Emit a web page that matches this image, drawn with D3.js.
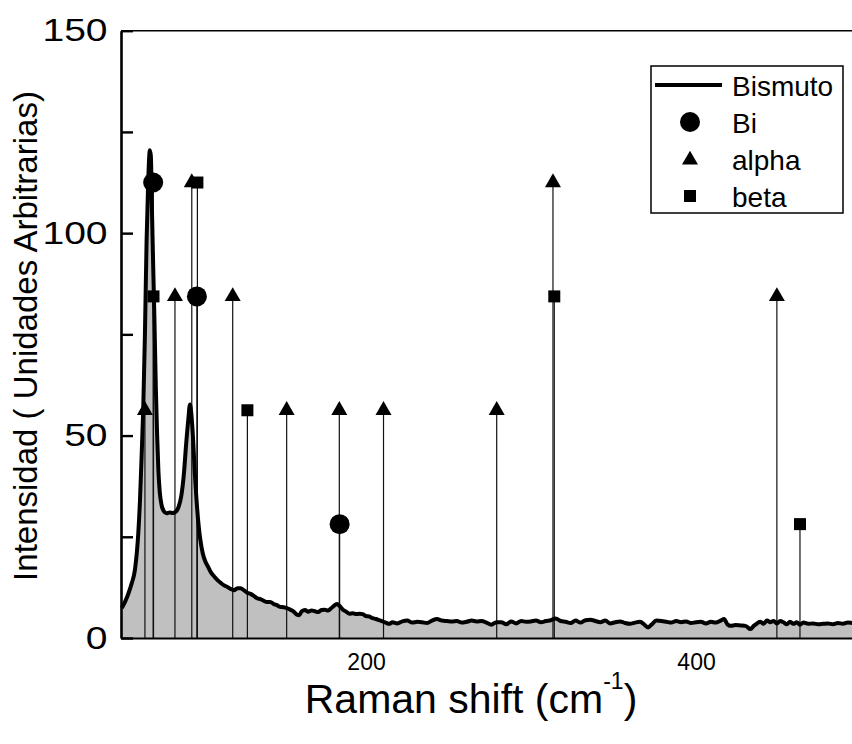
<!DOCTYPE html>
<html>
<head>
<meta charset="utf-8">
<script src="https://cdn.jsdelivr.net/npm/d3@7"></script>
<style>
  html, body { margin: 0; padding: 0; background: #fff; }
  svg { display: block; font-family: "Liberation Sans", Arial, sans-serif; }
</style>
</head>
<body>
<svg id="chart" width="852" height="744"></svg>
<script>
// ---- Data ----
const ramanShift = [52,54,56,58,60,62,63,64,65,66,67,68,69,69.6,70.3,71,71.8,72.6,73.4,74.2,75,76,77.5,79,81,83,85,86.5,88,89.5,91,92.3,93.3,94.2,95.2,96.2,97.2,98.5,99.5,101,102.5,104,106,108,110,112,114,116,118,120,122,124,126,128,130,132,134,136,138,140,142,144,146,148,150,152,154,156,158,159.5,161,163,165,167,169,171,173,175,177,179,181,182.5,184,186,188,190,192,194,196,198,200,202,204,206,208,210,212,214,216,219,222,225,228,231,234,237,240,243,246,249,252,255,258,261,264,267,270,273,276,279,282,285,288,291,294,297,300,303,306,309,312,315,318,321,324,327,330,333,336,339,342,345,348,351,354,357,360,363,366,369,371,373,376,379,382,385,388,391,394,397,400,403,406,409,412,415,417,419,421,424,427,430,433,435,437,439,441,443,445,447,449,451,453,455,457,459,461,463,465,468,471,474,477,480,483,486,489,492,495,500];
const bismutoIntensity = [7.4,9,11,13.5,17,26,34,45,57,75,98,113,120.5,119,105,92,78,62,50,41,36,33,31.3,30.8,31,30.9,31.3,32.5,35,40,48,54,57.7,55,49,41,34.5,28,24.5,21,19,17.8,16.2,15.2,14.3,13.6,13,12.6,12.1,11.8,12.3,12.3,11.8,11.2,10.9,10.4,9.8,9.6,9.2,8.9,8.9,8.4,8.1,7.7,7.6,7.4,7.0,6.6,5.8,5.6,6.6,6.9,6.5,6.8,6.6,6.4,6.9,7.0,6.8,7.4,8.1,8.4,7.9,7.0,6.5,6.0,6.1,5.9,6.0,5.9,5.4,5.3,4.9,4.7,4.4,4.1,3.8,3.5,3.9,3.6,4.1,4.3,3.8,4.0,3.9,3.7,4.3,4.7,4.3,4.2,4.1,4.2,3.8,4.0,4.3,4.1,4.2,3.8,3.3,3.9,3.9,3.4,4.1,3.6,4.2,4.0,4.1,4.3,3.9,4.2,4.4,4.8,4.2,4.0,3.7,4.3,3.8,4.4,4.5,4.2,3.9,4.3,3.6,3.9,4.1,3.7,3.5,3.8,4.0,3.2,2.6,3.3,4.3,4.2,4.0,3.8,4.2,3.9,4.1,3.7,3.9,4.0,3.6,4.0,3.8,4.3,4.7,3.4,3.0,3.2,3.1,3.0,2.2,3.0,3.6,4.0,3.5,4.3,3.9,4.2,3.6,4.2,3.9,3.4,4.0,3.5,3.9,3.3,3.8,3.5,3.6,3.4,3.5,3.6,3.4,3.7,3.5,3.8,3.7,3.6];

const biShift = [71, 97.5, 184];
const biLevel = [112.5, 84.375, 28.125];

const alphaShift = [66, 84.2, 94.4, 119.2, 151.9, 183.8, 210.6, 279.2, 313.3, 449];
const alphaLevel = [56.25, 84.375, 112.5, 84.375, 56.25, 56.25, 56.25, 56.25, 112.5, 84.375];

const betaShift = [71.2, 97.8, 128.1, 314.1, 463];
const betaLevel = [84.375, 112.5, 56.25, 84.375, 28.125];

const yTicks = [0, 25, 50, 75, 100, 125, 150];
const yTickLabels = [0, 50, 100, 150];
const xTickLabels = [200, 400];

const legendNames = ["Bismuto", "Bi", "alpha", "beta"];

// ---- Layout ----
const svg = d3.select("#chart");
const plotLeft = 121, plotBottom = 638, plotTop = 30.7;
const x = d3.scaleLinear().domain([51.5, 500]).range([plotLeft, plotLeft + 448.5 * 1.65]);
const y = d3.scaleLinear().domain([0, 150]).range([plotBottom, plotTop]);

const spectrum = ramanShift.map((v, i) => ({ x: v, y: bismutoIntensity[i] }));

// fill
svg.append("path")
  .datum(spectrum)
  .attr("fill", "#c0c0c0")
  .attr("d", d3.area().x(d => x(d.x)).y0(y(0)).y1(d => y(d.y)).curve(d3.curveMonotoneX));

// sticks
function sticks(xs, ys) {
  svg.append("g").selectAll("line").data(xs).join("line")
    .attr("x1", d => x(d)).attr("x2", d => x(d))
    .attr("y1", (d, i) => y(ys[i])).attr("y2", y(0))
    .attr("stroke", "#111").attr("stroke-width", 1.2);
}
sticks(biShift, biLevel);
sticks(alphaShift, alphaLevel);
sticks(betaShift, betaLevel);

// spectrum line
svg.append("path")
  .datum(spectrum)
  .attr("fill", "none")
  .attr("stroke", "#000")
  .attr("stroke-width", 4)
  .attr("stroke-linejoin", "round")
  .attr("d", d3.line().x(d => x(d.x)).y(d => y(d.y)).curve(d3.curveMonotoneX));

// markers
const circleSym = d3.symbol().type(d3.symbolCircle).size(Math.PI * 100);
const triSym = d3.symbol().type(d3.symbolTriangle).size(111);
const sqSym = d3.symbol().type(d3.symbolSquare).size(144);
function markers(xs, ys, sym) {
  svg.append("g").selectAll("path").data(xs).join("path")
    .attr("transform", (d, i) => `translate(${x(d)},${y(ys[i])})`)
    .attr("d", sym()).attr("fill", "#000");
}
markers(alphaShift, alphaLevel, triSym);
markers(betaShift, betaLevel, sqSym);
markers(biShift, biLevel, circleSym);

// top border
svg.append("line").attr("x1", plotLeft).attr("x2", 852).attr("y1", plotTop).attr("y2", plotTop)
  .attr("stroke", "#000").attr("stroke-width", 1.6);

// y axis
const yAxis = svg.append("g").attr("transform", `translate(${plotLeft},0)`)
  .call(d3.axisLeft(y).tickValues(yTicks).tickSizeInner(-12).tickSizeOuter(0).tickPadding(11)
    .tickFormat(d => yTickLabels.includes(d) ? d : ""));
yAxis.select(".domain").attr("stroke-width", 2.6);
yAxis.selectAll(".tick line").attr("stroke-width", 2.4);
yAxis.selectAll("text").attr("font-size", 32).attr("font-family", "Liberation Sans, Arial, sans-serif")
  .attr("fill", "#000").attr("transform", "scale(1.22,1)");

// x axis
const xAxis = svg.append("g").attr("transform", `translate(0,${plotBottom})`)
  .call(d3.axisBottom(x).tickValues(xTickLabels).tickSize(0).tickPadding(16));
xAxis.select(".domain").attr("stroke-width", 2);
xAxis.selectAll("text").attr("font-size", 23).attr("font-family", "Liberation Sans, Arial, sans-serif").attr("fill", "#000");

// axis titles
const xt = svg.append("text").attr("x", 471).attr("y", 713).attr("text-anchor", "middle")
  .attr("font-size", 41).attr("fill", "#000");
xt.append("tspan").text("Raman shift (cm");
xt.append("tspan").attr("font-size", 23).attr("dy", -24).text("-1");
xt.append("tspan").attr("dy", 24).text(")");

svg.append("text")
  .attr("transform", "translate(37,336) rotate(-90)")
  .attr("text-anchor", "middle")
  .attr("font-size", 33).attr("fill", "#000")
  .text("Intensidad ( Unidades Arbitrarias)");

// legend
const lg = svg.append("g");
lg.append("rect").attr("x", 651).attr("y", 66).attr("width", 192).attr("height", 147)
  .attr("fill", "#fff").attr("stroke", "#000").attr("stroke-width", 1.5);
const rowY = [85, 122, 159, 196];
lg.append("line").attr("x1", 655).attr("x2", 722).attr("y1", rowY[0]).attr("y2", rowY[0])
  .attr("stroke", "#000").attr("stroke-width", 4);
lg.append("path").attr("transform", `translate(690,${rowY[1]})`).attr("d", circleSym()).attr("fill", "#000");
lg.append("path").attr("transform", `translate(690,${rowY[2] + 1})`).attr("d", triSym()).attr("fill", "#000");
lg.append("path").attr("transform", `translate(690,${rowY[3]})`).attr("d", sqSym()).attr("fill", "#000");
lg.selectAll("text.lab").data(legendNames).join("text").attr("class", "lab")
  .attr("x", 732).attr("y", (d, i) => rowY[i] + 11)
  .attr("font-size", 28).attr("fill", "#000").text(d => d);
</script>
</body>
</html>
